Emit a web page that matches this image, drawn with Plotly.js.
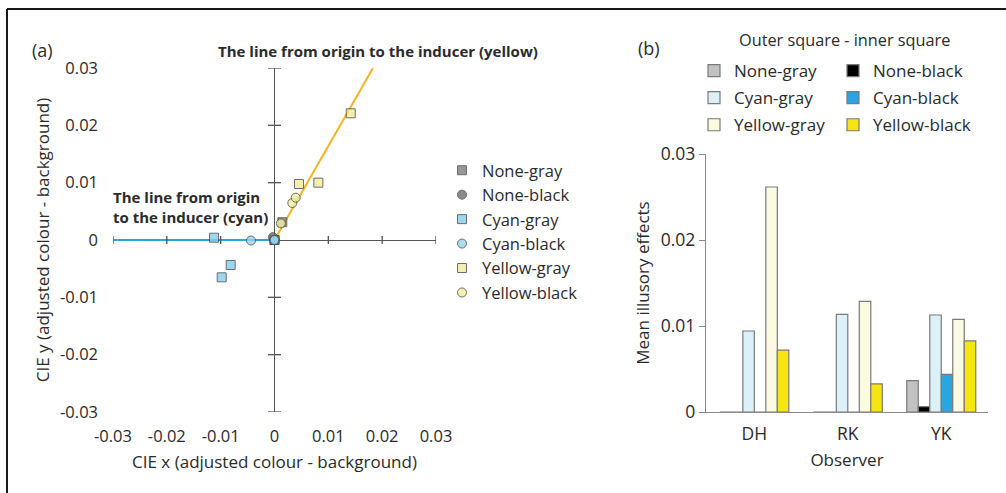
<!DOCTYPE html>
<html>
<head>
<meta charset="utf-8">
<script src="https://cdn.plot.ly/plotly-3.0.1.min.js"></script>
<style>html,body{margin:0;padding:0;background:#fff;} #chart{width:1006px;height:493px;}</style>
</head>
<body>
<div id="chart"></div>
<script>
// ---------- Panel (a) data: CIE shifts per observer (DH, RK, YK) ----------
const observers = ['DH', 'RK', 'YK'];
const noneGrayX   = [0, 0, 0.00145];
const noneGrayY   = [0, 0, 0.0031];
const noneBlackX  = [0, 0, -0.0003];
const noneBlackY  = [0, 0, 0.0005];
const cyanGrayX   = [-0.00814, -0.00981, -0.01124];
const cyanGrayY   = [-0.00436, -0.00651, 0.0004];
const cyanBlackX  = [0, 0, -0.00437];
const cyanBlackY  = [0, 0, -0.0001];
const yellowGrayX = [0.01416, 0.00815, 0.00455];
const yellowGrayY = [0.0221, 0.0100, 0.00977];
const yellowBlackX = [0.00331, 0.0012, 0.00394];
const yellowBlackY = [0.00645, 0.0029, 0.00738];
const cyanLineX   = [-0.03, 0];
const cyanLineY   = [0, 0];
const yellowLineX = [0, 0.0183];
const yellowLineY = [0, 0.03];
const axisTicksA  = [-0.03, -0.02, -0.01, 0, 0.01, 0.02, 0.03];
const tickTextA   = ['-0.03', '-0.02', '-0.01', '0', '0.01', '0.02', '0.03'];

// ---------- Panel (b) data: mean illusory effects ----------
const noneGrayBar   = [0, 0, 0.00364];
const noneBlackBar  = [0, 0, 0.00062];
const cyanGrayBar   = [0.00942, 0.01136, 0.01128];
const cyanBlackBar  = [0, 0, 0.00438];
const yellowGrayBar = [0.02616, 0.01287, 0.01078];
const yellowBlackBar = [0.0072, 0.00326, 0.00826];
const barTicks = [0, 0.01, 0.02, 0.03];
const barTickText = ['0', '0.01', '0.02', '0.03'];

const W = 1006, H = 493;
const px = v => v / W;
const py = v => 1 - v / H;
const FONT = '"Open Sans", "Noto Sans", sans-serif';
const TXT = '#2b2b2b';
const edge = {color: '#4a4a4a', width: 1};

function sc(name, xs, ys, symbol, fill) {
  return {type: 'scatter', mode: 'markers', name: name, x: xs, y: ys,
    xaxis: 'x', yaxis: 'y', legend: 'legend', legendgroup: 'a' + name, text: observers,
    marker: {symbol: symbol, size: 9, color: fill, opacity: 0.8, line: edge},
    hoverinfo: 'name+text'};
}
function br(name, vals, fill, leg) {
  return {type: 'bar', name: name, x: observers, y: vals, xaxis: 'x2', yaxis: 'y2',
    legend: leg, legendgroup: 'b' + name, marker: {color: fill, line: {color: '#7a7a7a', width: 1.2}}};
}

const traces = [
  {type: 'scatter', mode: 'lines', x: cyanLineX, y: cyanLineY, xaxis: 'x', yaxis: 'y',
   line: {color: '#2aa8e0', width: 2}, showlegend: false, hoverinfo: 'skip'},
  {type: 'scatter', mode: 'lines', x: yellowLineX, y: yellowLineY, xaxis: 'x', yaxis: 'y',
   line: {color: '#f6b51e', width: 2}, showlegend: false, hoverinfo: 'skip'},
  sc('None-gray', noneGrayX, noneGrayY, 'square', '#7d7d7d'),
  sc('None-black', noneBlackX, noneBlackY, 'circle', '#6f6f6f'),
  sc('Cyan-gray', cyanGrayX, cyanGrayY, 'square', '#86cdee'),
  sc('Cyan-black', cyanBlackX, cyanBlackY, 'circle', '#96d3f0'),
  sc('Yellow-gray', yellowGrayX, yellowGrayY, 'square', '#f1ec98'),
  sc('Yellow-black', yellowBlackX, yellowBlackY, 'circle', '#f3ef9f'),
  br('None-gray', noneGrayBar, '#c2c2c2', 'legend2'),
  br('None-black', noneBlackBar, '#000000', 'legend3'),
  br('Cyan-gray', cyanGrayBar, '#dcf0fa', 'legend2'),
  br('Cyan-black', cyanBlackBar, '#27a6df', 'legend3'),
  br('Yellow-gray', yellowGrayBar, '#fdfae2', 'legend2'),
  br('Yellow-black', yellowBlackBar, '#f5e513', 'legend3')
];

// axis ticks drawn across the zero lines of panel (a)
const shapes = [];
axisTicksA.forEach(v => {
  if (v !== 0) {
    shapes.push({type: 'line', xref: 'x', yref: 'y', ysizemode: 'pixel', yanchor: 0,
      x0: v, x1: v, y0: -4, y1: 4, line: {color: '#555', width: 1.3}});
    shapes.push({type: 'line', xref: 'x', yref: 'y', xsizemode: 'pixel', xanchor: 0,
      y0: v, y1: v, x0: -6.5, x1: 6.5, line: {color: '#555', width: 1.3}});
  }
});
// figure frame
shapes.push({type: 'line', xref: 'paper', yref: 'paper', x0: px(7), x1: 1.01, y0: py(9), y1: py(9),
  line: {color: '#1a1a1a', width: 2}});
shapes.push({type: 'line', xref: 'paper', yref: 'paper', x0: px(7), x1: px(7), y0: -0.02, y1: py(9),
  line: {color: '#1a1a1a', width: 2}});

const legFontA = {family: FONT, size: 16.5, color: TXT};
const legFont = {family: FONT, size: 17, color: TXT};
const layout = {
  width: W, height: H,
  margin: {l: 0, r: 0, t: 0, b: 0},
  paper_bgcolor: '#fff', plot_bgcolor: 'rgba(0,0,0,0)',
  font: {family: FONT, color: TXT, size: 16},
  barmode: 'group', bargap: 0.262, bargroupgap: 0,
  showlegend: true,
  xaxis: {domain: [px(113), px(436)], range: [-0.03, 0.03], anchor: 'y',
    tickvals: axisTicksA, ticktext: tickTextA, ticks: '', showgrid: false, showline: false,
    zeroline: true, zerolinecolor: '#555', zerolinewidth: 1.3,
    tickfont: {family: FONT, size: 16.5, color: TXT}, ticklabelstandoff: 12,
    title: {text: 'CIE x (adjusted colour - background)', font: {family: FONT, size: 17, color: TXT}, standoff: 10}},
  yaxis: {domain: [py(412), py(68)], range: [-0.03, 0.03], anchor: 'x',
    tickvals: axisTicksA, ticktext: tickTextA, ticks: '', showgrid: false, showline: false,
    zeroline: true, zerolinecolor: '#555', zerolinewidth: 1.3,
    tickfont: {family: FONT, size: 16.5, color: TXT}, ticklabelstandoff: 14,
    title: {text: 'CIE y (adjusted colour - background)', font: {family: FONT, size: 17, color: TXT}, standoff: 6}},
  xaxis2: {domain: [px(706), px(988)], range: [-0.517, 2.5], anchor: 'y2', type: 'category',
    showline: true, linecolor: '#8a8a8a', linewidth: 1.3, ticks: '', showgrid: false, zeroline: false,
    tickfont: {family: FONT, size: 17.5, color: TXT}, ticklabelstandoff: 6,
    title: {text: 'Observer', font: {family: FONT, size: 17, color: TXT}, standoff: 9}},
  yaxis2: {domain: [py(412), py(154)], range: [0, 0.03], anchor: 'x2',
    tickvals: barTicks, ticktext: barTickText,
    showline: true, linecolor: '#8a8a8a', linewidth: 1.3, ticks: 'outside', ticklen: 6, tickcolor: '#8a8a8a',
    showgrid: false, zeroline: false,
    tickfont: {family: FONT, size: 17.5, color: TXT},
    title: {text: 'Mean illusory effects', font: {family: FONT, size: 17, color: TXT}, standoff: 6}},
  legend: {x: px(442), y: py(153), xanchor: 'left', yanchor: 'top', font: legFontA,
    bgcolor: 'rgba(0,0,0,0)', tracegroupgap: 0},
  legend2: {x: px(694), y: py(53), xanchor: 'left', yanchor: 'top', font: legFont,
    bgcolor: 'rgba(0,0,0,0)', tracegroupgap: 2},
  legend3: {x: px(833), y: py(53), xanchor: 'left', yanchor: 'top', font: legFont,
    bgcolor: 'rgba(0,0,0,0)', tracegroupgap: 2},
  shapes: shapes,
  annotations: [
    {text: '(a)', xref: 'paper', yref: 'paper', x: px(30), y: py(50), xanchor: 'left', yanchor: 'middle',
     showarrow: false, font: {family: FONT, size: 18, color: TXT}},
    {text: '(b)', xref: 'paper', yref: 'paper', x: px(636), y: py(48), xanchor: 'left', yanchor: 'middle',
     showarrow: false, font: {family: FONT, size: 18, color: TXT}},
    {text: '<b>The line from origin to the inducer (yellow)</b>', xref: 'paper', yref: 'paper',
     x: px(378), y: py(51), xanchor: 'center', yanchor: 'middle', showarrow: false,
     font: {family: FONT, size: 15, color: TXT}},
    {text: '<b>The line from origin<br>to the inducer (cyan)</b>', xref: 'paper', yref: 'paper',
     x: px(111), y: py(207), xanchor: 'left', yanchor: 'middle', align: 'left', showarrow: false,
     font: {family: FONT, size: 15, color: TXT}},
    {text: 'Outer square - inner square', xref: 'paper', yref: 'paper',
     x: px(844), y: py(40), xanchor: 'center', yanchor: 'middle', showarrow: false,
     font: {family: FONT, size: 16.3, color: TXT}}
  ]
};

Plotly.newPlot('chart', traces, layout, {displayModeBar: false, responsive: false});
</script>
</body>
</html>
